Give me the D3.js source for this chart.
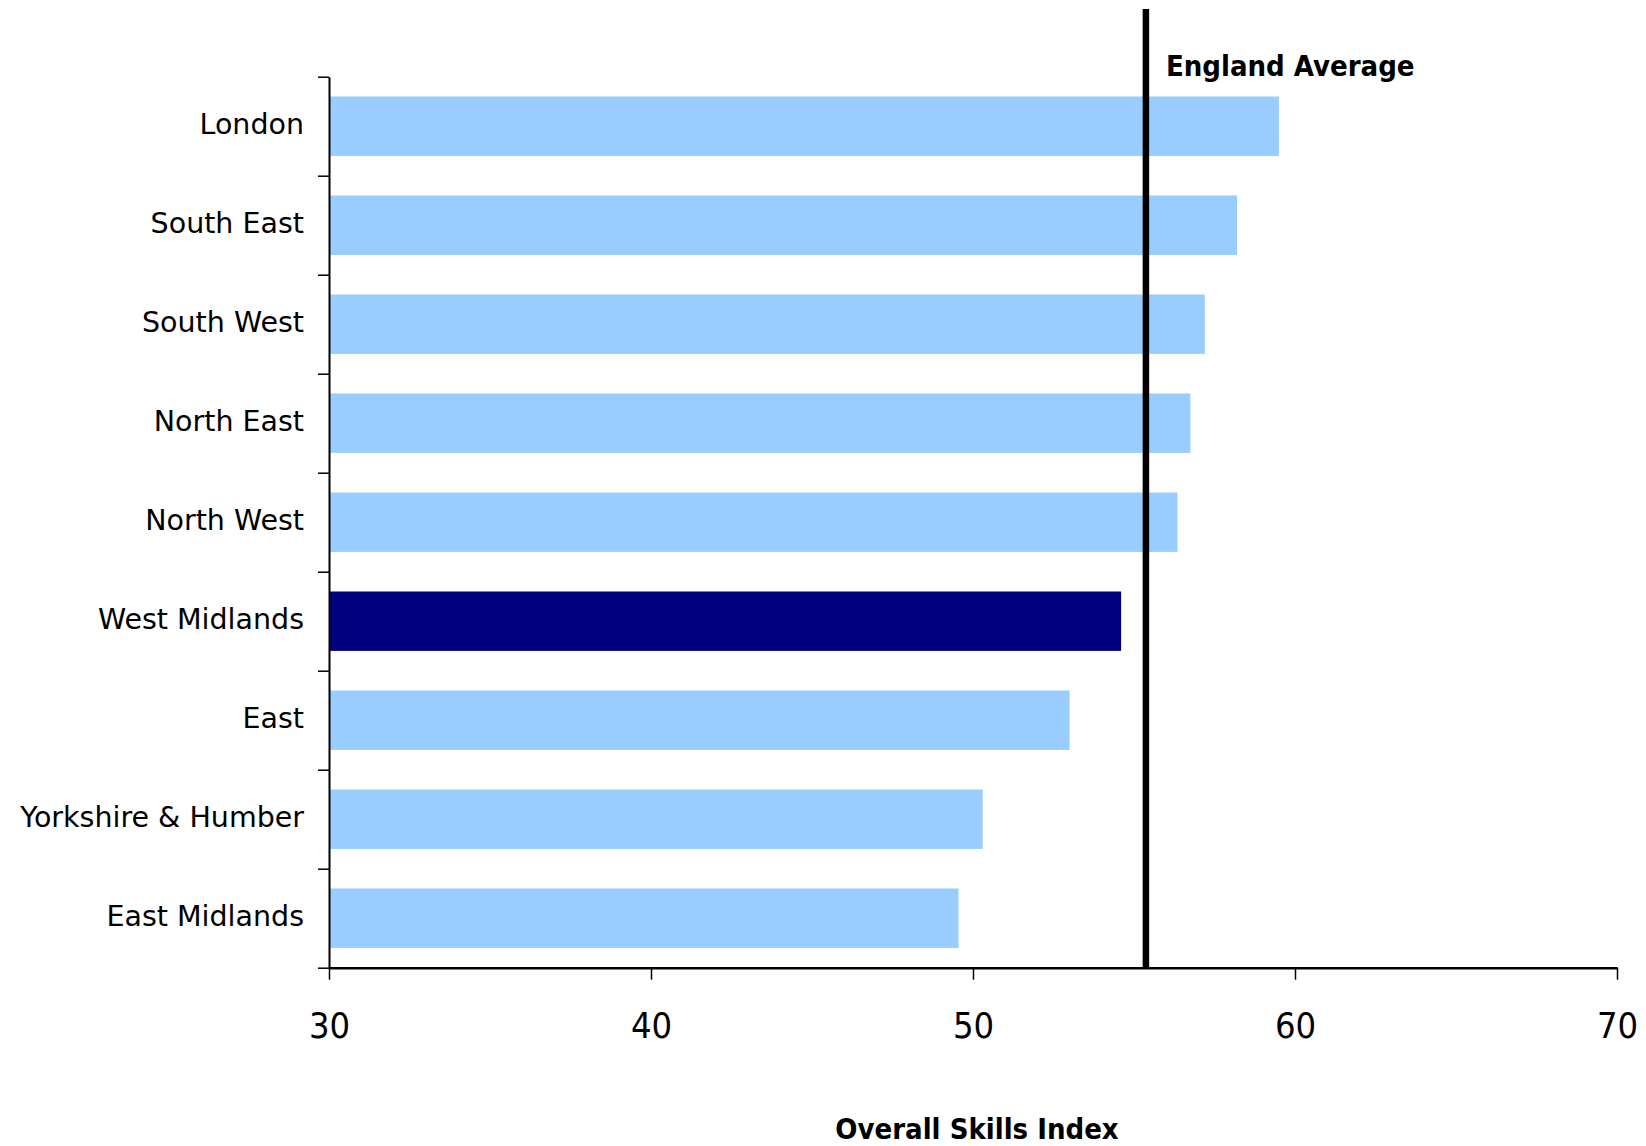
<!DOCTYPE html>
<html>
<head>
<meta charset="utf-8">
<script src="https://cdn.jsdelivr.net/npm/d3@7"></script>
<style>
  html, body { margin: 0; padding: 0; background: #fff; }
  svg { display: block; }
</style>
</head>
<body>
<svg id="chart" width="1646" height="1146"></svg>
<script>
const categories = ["London", "South East", "South West", "North East", "North West",
                    "West Midlands", "East", "Yorkshire & Humber", "East Midlands"];
const values = [59.5, 58.2, 57.2, 56.75, 56.35, 54.6, 53.0, 50.3, 49.55];
const highlight = ["West Midlands"];
const englandAverage = 55.37;
const xTicks = [30, 40, 50, 60, 70];
const xDomain = [30, 70];
const xTitle = "Overall Skills Index";
const avgLabel = "England Average";

(function () {
const condensed = '"DejaVu Sans Condensed", "DejaVu Sans", sans-serif';
const regular = '"DejaVu Sans", sans-serif';
const svg = d3.select("#chart");
const mLeft = 329, mRight = 1617, mTop = 76.7, mBottom = 967.7;

const x = d3.scaleLinear().domain(xDomain).range([mLeft, mRight]);
const y = d3.scaleBand().domain(categories).range([mTop, mBottom])
  .paddingInner(0.4).paddingOuter(0.2);
const yIdx = d3.scaleLinear().domain([0, categories.length]).range([mTop, mBottom]);

// bars
svg.append("g").selectAll("rect").data(categories).join("rect")
  .attr("x", x(xDomain[0]))
  .attr("y", d => y(d))
  .attr("width", (d, i) => x(values[i]) - x(xDomain[0]))
  .attr("height", y.bandwidth())
  .attr("fill", d => highlight.includes(d) ? "#000080" : "#99CCFF");

// England average line
svg.append("line")
  .attr("x1", x(englandAverage)).attr("x2", x(englandAverage))
  .attr("y1", 9).attr("y2", mBottom)
  .attr("stroke", "#000").attr("stroke-width", 6.5);

svg.append("text")
  .attr("x", x(englandAverage) + 20)
  .attr("y", 76)
  .style("font-family", condensed)
  .style("font-size", "29px")
  .style("font-weight", "bold")
  .attr("fill", "#000")
  .text(avgLabel);

// y boundary ticks
const gyt = svg.append("g").attr("transform", `translate(${mLeft},0)`)
  .call(d3.axisLeft(yIdx).tickValues(d3.range(categories.length + 1)).tickSize(11).tickSizeOuter(0).tickFormat(""));
gyt.selectAll("line").attr("stroke", "#000").attr("stroke-width", 1.5);
gyt.select(".domain").attr("stroke", "#000").attr("stroke-width", 2);

// y labels
const gyl = svg.append("g").attr("transform", `translate(${mLeft},0)`)
  .call(d3.axisLeft(y).tickSize(0).tickPadding(25));
gyl.select(".domain").remove();
gyl.selectAll("text")
  .style("font-family", regular)
  .style("font-size", "28.5px")
  .attr("dy", "0.27em")
  .attr("fill", "#000");

// x axis
const gx = svg.append("g").attr("transform", `translate(0,${mBottom})`)
  .call(d3.axisBottom(x).tickValues(xTicks).tickSize(12).tickSizeOuter(0).tickPadding(33));
gx.select(".domain").attr("stroke", "#000").attr("stroke-width", 2.5);
gx.selectAll("line").attr("stroke", "#000").attr("stroke-width", 1.5);
gx.selectAll("text")
  .style("font-family", condensed)
  .style("font-size", "36px")
  .attr("fill", "#000");

// x title
svg.append("text")
  .attr("x", (mLeft + mRight) / 2 + 4)
  .attr("y", 1139)
  .attr("text-anchor", "middle")
  .style("font-family", condensed)
  .style("font-size", "29px")
  .style("font-weight", "bold")
  .attr("fill", "#000")
  .text(xTitle);
})();
</script>
</body>
</html>
